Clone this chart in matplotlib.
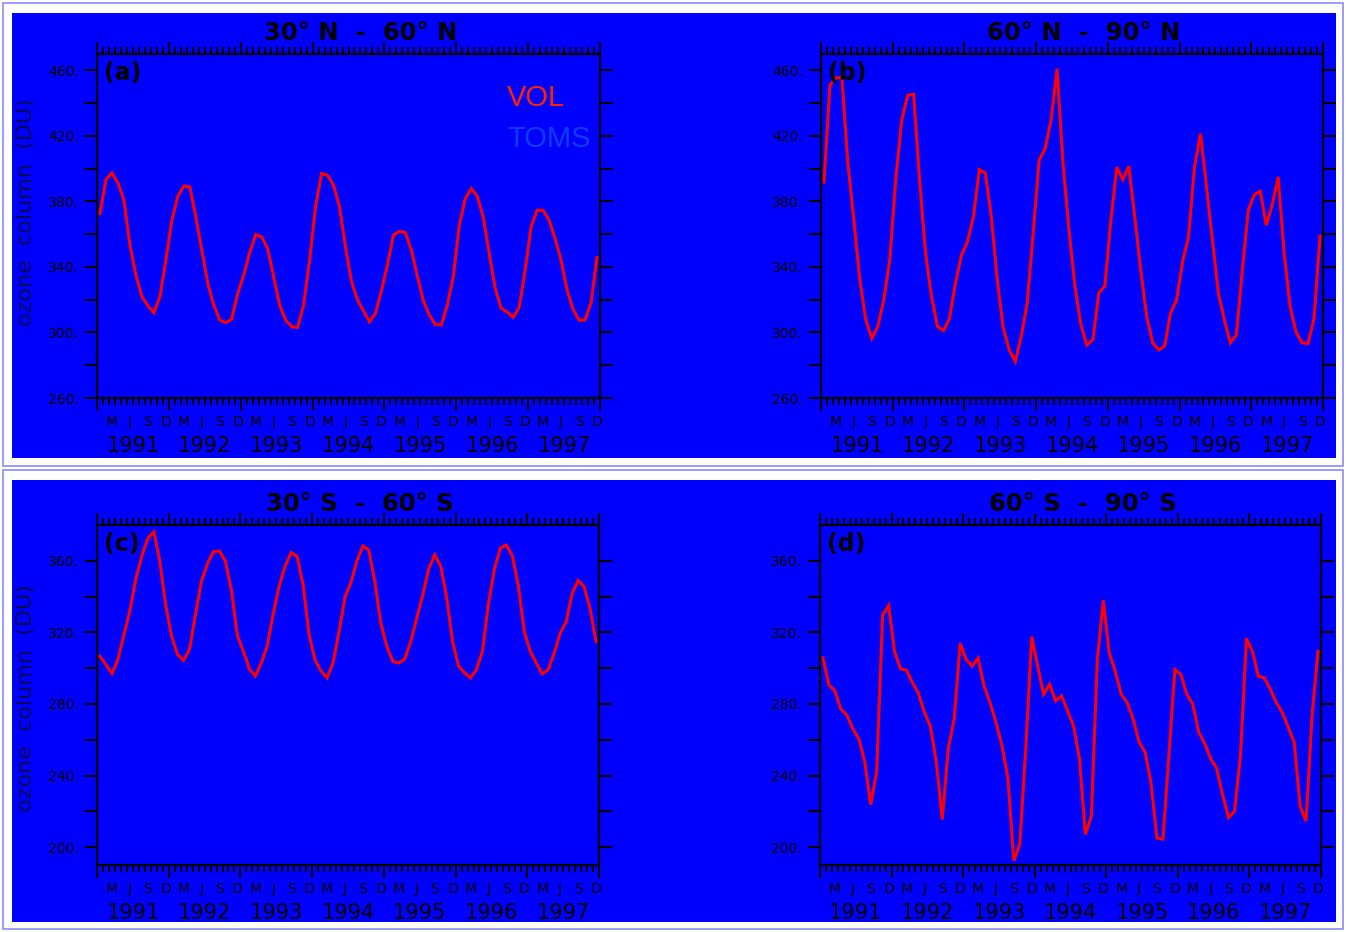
import numpy as np
import matplotlib
matplotlib.use("Agg")
import matplotlib.pyplot as plt
from matplotlib.patches import Rectangle

###########################################################################################################
#
# Data (monthly zonal mean ozone column, Jan 1991 - Dec 1997)
#
###########################################################################################################

years = ['1991', '1992', '1993', '1994', '1995', '1996', '1997']
monthLabels = ['M', 'J', 'S', 'D']
monthLabelPos = [2.5, 5.5, 8.5, 11.5]

# 30N - 60N
volNorthMid = [372.6, 393.3, 397.4, 391.3, 380.7, 353.3, 335.0, 321.8, 316.3, 312.0, 321.8, 344.1,
               368.5, 383.2, 389.3, 388.9, 370.6, 350.2, 330.0, 316.7, 307.6, 305.9, 308.2, 323.8,
               335.0, 348.8, 359.8, 358.4, 351.3, 334.0, 316.7, 307.6, 303.5, 303.1, 316.7, 344.1,
               376.7, 397.0, 396.0, 389.9, 376.7, 352.3, 331.0, 319.8, 313.3, 306.5, 311.6, 325.5,
               341.1, 359.4, 361.8, 361.0, 350.2, 334.4, 319.4, 310.6, 304.9, 304.5, 316.7, 334.0,
               365.5, 381.7, 387.8, 383.2, 370.6, 348.2, 326.9, 314.7, 312.6, 309.2, 315.3, 338.0,
               364.5, 374.6, 374.6, 368.5, 357.4, 344.1, 325.9, 314.1, 307.6, 307.6, 318.1, 345.8]

# 60N - 90N
volNorthPole = [391.9, 450.9, 455.5, 455.5, 403.1, 368.5, 332.0, 307.6, 296.4, 303.5, 319.8, 344.1,
                392.9, 429.5, 444.8, 445.4, 392.9, 348.2, 321.8, 303.5, 301.1, 308.6, 330.0, 347.2,
                355.4, 370.6, 399.4, 397.4, 370.6, 332.0, 302.5, 289.3, 282.2, 297.4, 317.7, 360.4,
                405.1, 412.2, 429.5, 461.0, 403.1, 362.4, 327.9, 304.5, 292.3, 295.8, 324.2, 328.3,
                368.5, 401.0, 393.3, 401.5, 370.6, 338.0, 309.6, 293.7, 289.3, 291.7, 312.0, 319.8,
                343.1, 358.4, 401.0, 421.4, 388.9, 356.3, 323.8, 307.6, 293.7, 298.4, 338.0, 374.6,
                384.1, 386.2, 365.5, 377.7, 395.0, 348.2, 315.7, 300.2, 293.7, 293.3, 308.6, 358.8]

# 30S - 60S
volSouthMid = [306.6, 302.0, 297.0, 304.8, 318.6, 332.0, 349.9, 362.8, 372.5, 376.2, 360.0, 335.1,
               317.6, 307.5, 304.4, 310.6, 330.5, 349.0, 358.5, 365.2, 365.5, 359.6, 343.4, 318.0,
               309.4, 299.6, 295.5, 302.9, 312.5, 330.5, 346.2, 357.2, 364.6, 362.4, 346.2, 318.6,
               304.4, 298.3, 294.6, 302.9, 320.4, 339.7, 348.0, 360.0, 368.3, 365.9, 348.0, 325.0,
               312.1, 303.8, 302.9, 305.1, 314.9, 327.8, 340.7, 355.4, 363.3, 357.2, 339.7, 314.9,
               301.1, 297.4, 294.6, 299.2, 309.4, 336.1, 355.4, 367.0, 368.8, 362.8, 346.2, 320.4,
               309.4, 302.9, 296.8, 299.2, 308.4, 319.5, 325.9, 341.6, 349.0, 345.6, 333.3, 314.9]

# 60S - 90S
volSouthPole = [305.7, 290.6, 287.3, 277.1, 273.8, 266.1, 260.6, 247.7, 223.7, 242.1, 329.6, 335.1,
                309.4, 299.6, 298.9, 291.9, 286.0, 275.3, 267.6, 247.7, 215.4, 255.0, 271.6, 314.0,
                304.8, 301.1, 305.7, 290.0, 280.8, 269.8, 256.9, 238.5, 192.4, 201.6, 255.0, 317.6,
                301.1, 285.4, 291.0, 281.7, 284.5, 276.2, 267.9, 249.5, 207.1, 217.3, 304.8, 337.9,
                308.4, 298.3, 285.4, 280.8, 271.6, 258.7, 253.2, 235.7, 205.0, 204.4, 251.3, 299.2,
                296.5, 285.4, 279.9, 264.2, 257.8, 249.5, 244.0, 229.2, 216.4, 220.0, 251.3, 316.7,
                309.4, 295.5, 294.6, 288.2, 280.8, 275.3, 267.0, 258.7, 222.8, 214.5, 273.4, 309.4]

northTicks = list(range(260, 461, 20))
southTicks = list(range(200, 361, 20))

###########################################################################################################
#
# Helpers
#
###########################################################################################################

W, H = 1346, 932
BLUE = '#0000ff'


def pixelRect(x0, y0, x1, y1):
    # pixel box (top-left origin) -> figure fraction [left, bottom, width, height]
    return [x0 / W, 1 - y1 / H, (x1 - x0) / W, (y1 - y0) / H]


def drawPanel(fig, box, values, ticks, ylim, title, letter):

    ax = fig.add_axes(pixelRect(*box))
    ax.set_facecolor(BLUE)

    x = np.arange(len(values)) + 0.5
    ax.plot(x, values, color='#ff0000', linewidth=2.2, solid_joinstyle='miter')

    ax.set_xlim(0, 12 * len(years))
    ax.set_ylim(*ylim)

    for side in ax.spines.values():
        side.set_linewidth(1.6)
        side.set_color('black')

    # x axis: yearly major ticks, monthly minor ticks, top and bottom
    ax.set_xticks(np.arange(0, 12 * len(years) + 1, 12))
    ax.set_xticks(np.arange(0, 12 * len(years) + 1, 1), minor=True)
    ax.tick_params(axis='x', which='major', direction='out', length=9, width=1.5,
                   top=True, bottom=True, labelbottom=False, labeltop=False)
    ax.tick_params(axis='x', which='minor', direction='out', length=4.8, width=1.5,
                   top=True, bottom=True)

    # y axis: tick every 20, label every 40
    ax.set_yticks(ticks)
    ax.set_yticklabels([('%d.' % t) if (t - ticks[0]) % 40 == 0 else '' for t in ticks])
    ax.tick_params(axis='y', direction='out', length=9, width=1.5, left=True, right=True,
                   labelsize=10, pad=4, labelcolor='black')

    for i in range(len(years)):
        for pos, lab in zip(monthLabelPos, monthLabels):
            ax.annotate(lab, xy=(12 * i + pos, 0), xycoords=('data', 'axes fraction'),
                        xytext=(0, -24), textcoords='offset pixels',
                        ha='center', va='center', fontsize=10)
        ax.annotate(years[i], xy=(12 * i + 6, 0), xycoords=('data', 'axes fraction'),
                    xytext=(0, -48), textcoords='offset pixels',
                    ha='center', va='center', fontsize=15)

    ax.annotate(title, xy=(0.5, 1), xycoords='axes fraction', xytext=(12, 21),
                textcoords='offset pixels', ha='center', va='center',
                fontsize=17.5, fontweight='bold')
    ax.annotate(letter, xy=(0, 1), xycoords='axes fraction', xytext=(7, -19),
                textcoords='offset pixels', ha='left', va='center',
                fontsize=17, fontweight='bold')
    return ax

###########################################################################################################
#
# Making the visualization
#
###########################################################################################################

def main():

    fig = plt.figure(figsize=(W / 100, H / 100), dpi=100)
    fig.patch.set_facecolor('white')

    # two framed blue boards (drawn below the axes)
    for (x0, y0, x1, y1), (fx0, fy0, fx1, fy1) in [((12, 13, 1336, 458), (3, 3, 1343, 466)),
                                                   ((12, 480, 1336, 922), (3, 470, 1343, 929))]:
        l, b, w, h = pixelRect(fx0, fy0, fx1, fy1)
        fig.patches.append(Rectangle((l, b), w, h, transform=fig.transFigure, zorder=-2,
                                     facecolor='none', edgecolor='#8a8aff', linewidth=1.2))
        l, b, w, h = pixelRect(x0, y0, x1, y1)
        fig.patches.append(Rectangle((l, b), w, h, transform=fig.transFigure, zorder=-2,
                                     facecolor=BLUE, edgecolor='none'))

    axA = drawPanel(fig, (97, 54, 600, 398), volNorthMid, northTicks, (260, 470),
                    '30° N  -  60° N', '(a)')
    drawPanel(fig, (821, 54, 1323, 398), volNorthPole, northTicks, (260, 470),
              '60° N  -  90° N', '(b)')
    drawPanel(fig, (97, 525, 599, 865), volSouthMid, southTicks, (190, 380),
              '30° S  -  60° S', '(c)')
    drawPanel(fig, (820, 525, 1321, 865), volSouthPole, southTicks, (190, 380),
              '60° S  -  90° S', '(d)')

    # y labels
    fig.text(26 / W, 1 - 212 / H, 'ozone  column  (DU)', rotation=90, ha='center', va='center',
             fontsize=16, color='#08085a')
    fig.text(26 / W, 1 - 698 / H, 'ozone  column  (DU)', rotation=90, ha='center', va='center',
             fontsize=16, color='#08085a')

    # legend text
    axA.text(507 / W, 1 - 98 / H, 'VOL', transform=fig.transFigure, ha='left', va='center',
             fontsize=21, color='#ff2200', family='Liberation Sans')
    axA.text(507 / W, 1 - 139 / H, 'TOMS', transform=fig.transFigure, ha='left', va='center',
             fontsize=21, color='#0d3dfa', family='Liberation Sans')

    fig.savefig('out.png', dpi=100, facecolor='white')


main()
